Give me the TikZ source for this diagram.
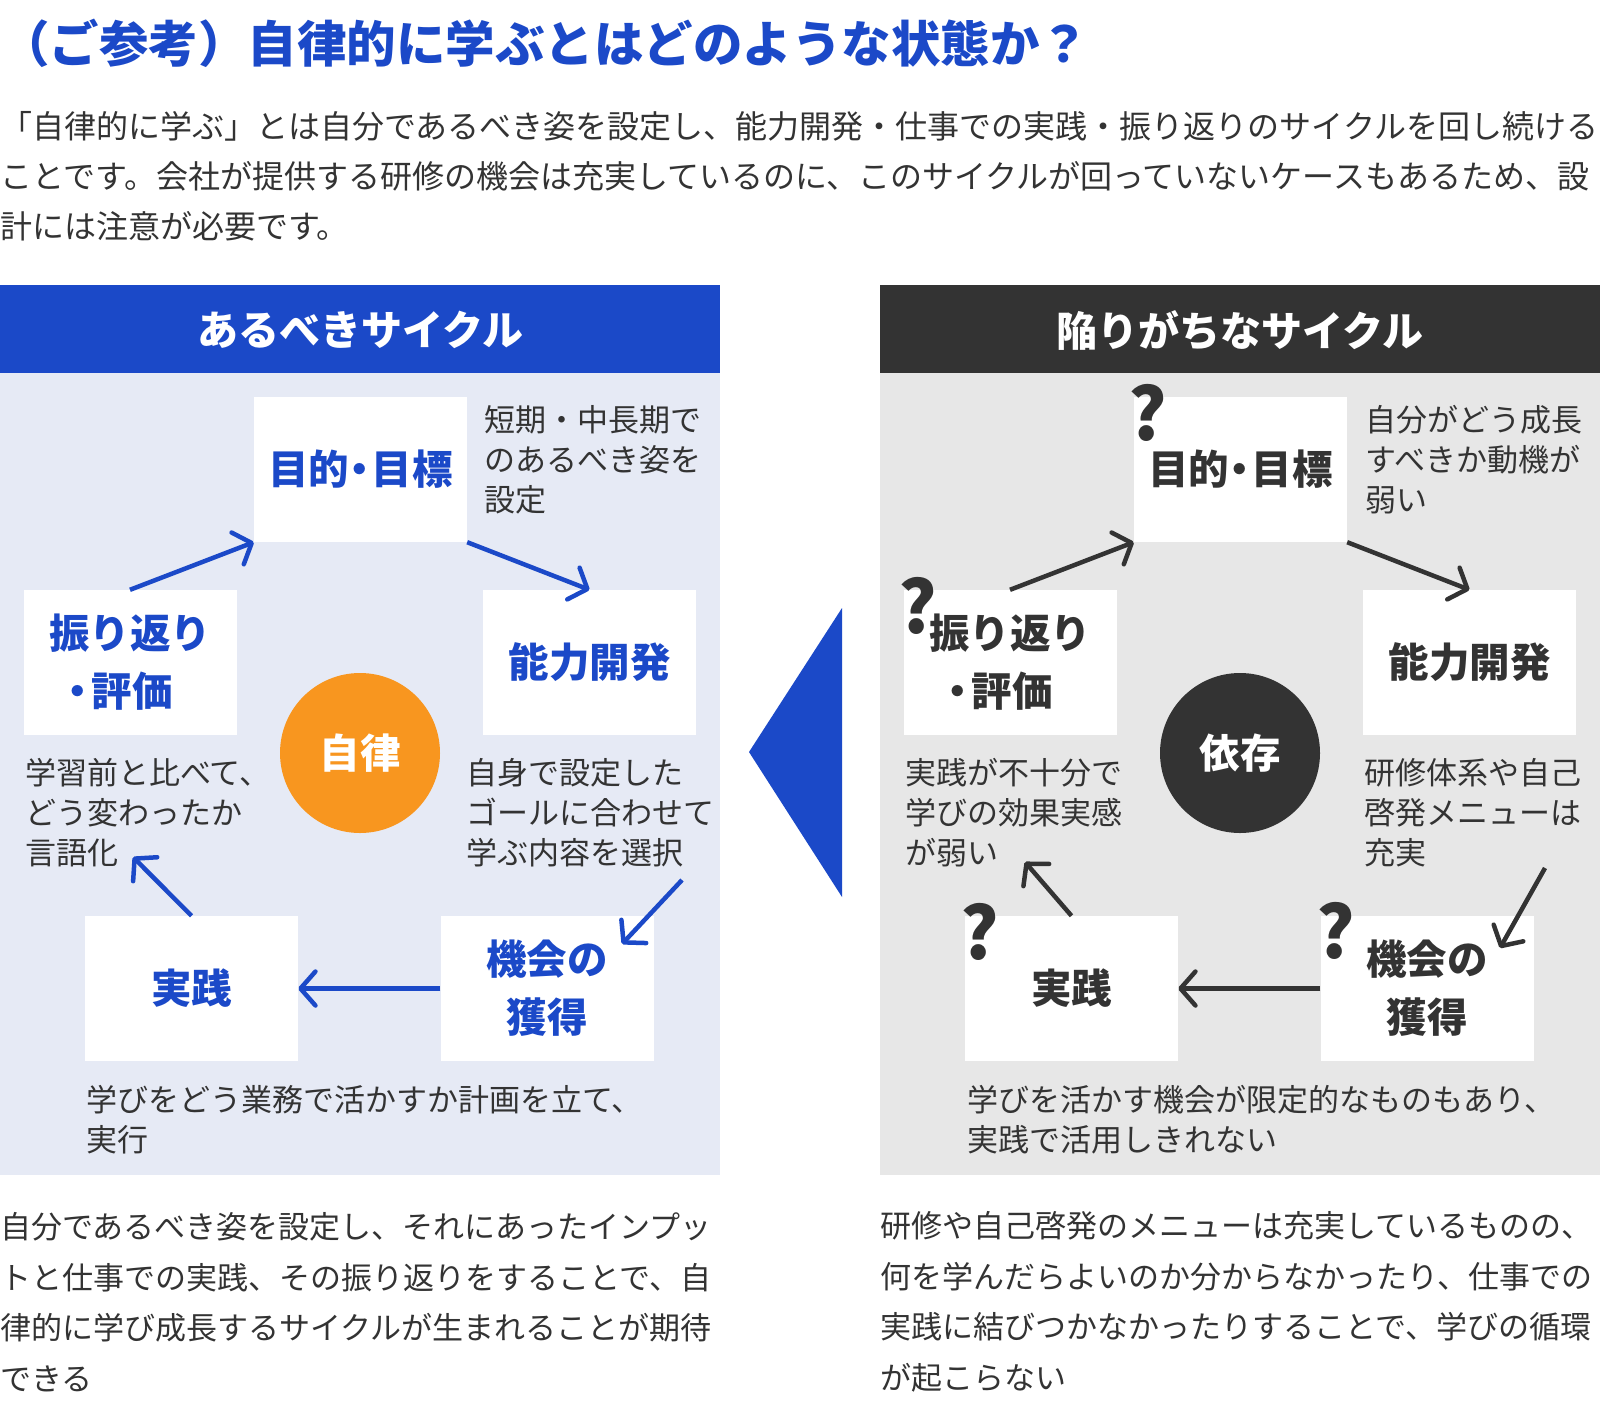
\documentclass[tikz,border=0pt]{standalone}
\usepackage{fontspec}
\setmainfont{Noto Sans CJK JP}
\usetikzlibrary{arrows.meta}

\definecolor{brand}{HTML}{1B49C8}
\definecolor{ink}{HTML}{333333}
\definecolor{paleblue}{HTML}{E6EAF5}
\definecolor{palegray}{HTML}{E7E7E7}
\definecolor{sun}{HTML}{F8961F}

\begin{document}
\begin{tikzpicture}[x=1pt,y=-1pt,
  box/.style={fill=white,minimum width=213pt,minimum height=145pt,inner sep=0pt,align=center,
    font=\fontsize{40.5}{58}\selectfont\bfseries},
  note/.style={anchor=west,align=left,text=ink,inner sep=0pt,font=\fontsize{31}{40}\selectfont},
  flow/.style={line width=4.5pt,-{Straight Barb[length=15pt,width=34pt,round]}},
  ask/.style={text=ink,inner sep=0pt,font=\fontsize{72}{72}\selectfont\bfseries},
  hub/.style={circle,minimum size=160pt,inner sep=0pt,text=white,font=\fontsize{40.5}{40}\selectfont\bfseries},
  head/.style={text=white,inner sep=0pt,font=\fontsize{41}{41}\selectfont\bfseries}]

\useasboundingbox (0,0) rectangle (1600,1403);

% title and lead text
\node[anchor=west,inner sep=0pt,text=brand,font=\fontsize{49.5}{49.5}\selectfont\bfseries] (title) at (0,43)
  {（ご参考）自律的に学ぶとはどのような状態か？};
\node[note,font=\fontsize{32}{50}\selectfont] (lead) at (0,176)
  {「自律的に学ぶ」とは自分であるべき姿を設定し、能力開発・仕事での実践・振り返りのサイクルを回し続ける\\
   ことです。会社が提供する研修の機会は充実しているのに、このサイクルが回っていないケースもあるため、設\\
   計には注意が必要です。};

% left panel
\fill[brand] (0,285) rectangle (720,373);
\fill[paleblue] (0,373) rectangle (720,1175);
\node[head] (headL) at (360,330) {あるべきサイクル};

\node[box,text=brand] (goalL) at (360.5,469.5) {目的\kern-.25em・\kern-.2em目標};
\node[box,text=brand] (reflL) at (130,662.5) {振り返り\\\kern-.75em・\kern-.15em評価};
\node[box,text=brand] (devL) at (589.5,662.5) {能力開発};
\node[box,text=brand] (practL) at (191.5,988.5) {実践};
\node[box,text=brand] (oppL) at (547,988.5) {機会の\\獲得};
\node[hub,fill=sun] (selfL) at (360,753) {自律};

\node[note] (goalLnote) at (484,460) {短期・中長期で\\のあるべき姿を\\設定};
\node[note] (reflLnote) at (25,813) {学習前と比べて、\\どう変わったか\\言語化};
\node[note] (devLnote) at (466,813) {自身で設定した\\ゴールに合わせて\\学ぶ内容を選択};
\node[note] (practLnote) at (86,1120) {学びをどう業務で活かすか計画を立て、\\実行};

\coordinate (devLout) at (682,880);
\coordinate (oppLin) at (622,944);
\coordinate (reflLin) at (133,857);
\draw[flow,brand] (reflL.north) -- (goalL.south west);
\draw[flow,brand] (goalL.south east) -- (devL.north);
\draw[flow,brand] (devLout) -- (oppLin);
\draw[flow,brand] (oppL.west) -- (practL.east);
\draw[flow,brand] (practL.north) -- (reflLin);

% arrow between panels
\fill[brand] (842,608) -- (749,752) -- (842,897) -- cycle;

% right panel
\fill[ink] (880,285) rectangle (1600,373);
\fill[palegray] (880,373) rectangle (1600,1175);
\node[head] (headR) at (1240,330) {陥りがちなサイクル};

\node[box,text=ink] (goalR) at (1240.5,469.5) {目的\kern-.25em・\kern-.2em目標};
\node[box,text=ink] (reflR) at (1010,662.5) {振り返り\\\kern-.75em・\kern-.15em評価};
\node[box,text=ink] (devR) at (1469.5,662.5) {能力開発};
\node[box,text=ink] (practR) at (1071.5,988.5) {実践};
\node[box,text=ink] (oppR) at (1427,988.5) {機会の\\獲得};
\node[hub,fill=ink] (selfR) at (1240,753) {依存};

\node[ask] (askgoal) at (1148,413) {?};
\node[ask] (askrefl) at (918,606) {?};
\node[ask] (askpract) at (980,932) {?};
\node[ask] (askopp) at (1336,931) {?};

\node[note] (goalRnote) at (1365,460) {自分がどう成長\\すべきか動機が\\弱い};
\node[note] (reflRnote) at (905,813) {実践が不十分で\\学びの効果実感\\が弱い};
\node[note] (devRnote) at (1364,813) {研修体系や自己\\啓発メニューは\\充実};
\node[note] (practRnote) at (967,1120) {学びを活かす機会が限定的なものもあり、\\実践で活用しきれない};

\coordinate (devRout) at (1545,868);
\coordinate (oppRin) at (1500,948);
\coordinate (reflRin) at (1025,862);
\draw[flow,ink] (reflR.north) -- (goalR.south west);
\draw[flow,ink] (goalR.south east) -- (devR.north);
\draw[flow,ink] (devRout) -- (oppRin);
\draw[flow,ink] (oppR.west) -- (practR.east);
\draw[flow,ink] (practR.north) -- (reflRin);

% summaries
\node[note,font=\fontsize{31}{50.5}\selectfont] (sumL) at (0,1302)
  {自分であるべき姿を設定し、それにあったインプッ\\トと仕事での実践、その振り返りをすることで、自\\律的に学び成長するサイクルが生まれることが期待\\できる};
\node[note,font=\fontsize{31}{50.5}\selectfont] (sumR) at (880,1302)
  {研修や自己啓発のメニューは充実しているものの、\\何を学んだらよいのか分からなかったり、仕事での\\実践に結びつかなかったりすることで、学びの循環\\が起こらない};
\end{tikzpicture}
\end{document}
